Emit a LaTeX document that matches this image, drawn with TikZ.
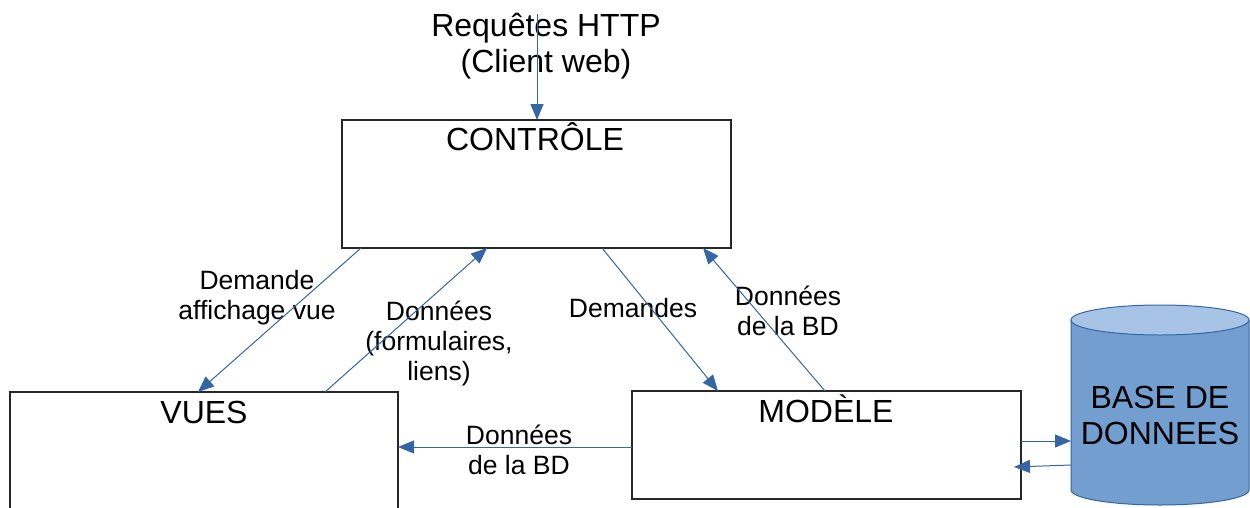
\documentclass[tikz,border=0pt]{standalone}
\usepackage{fontspec}
\setmainfont{Liberation Sans}
\usetikzlibrary{arrows.meta,calc}
\definecolor{arrblue}{HTML}{3465A4}
\definecolor{dbbody}{HTML}{729FCF}
\definecolor{dbtop}{HTML}{A7C4E6}
\tikzset{
  box/.style={draw=black!85, line width=1.2pt, fill=white, inner sep=0pt, outer sep=0pt},
  bigtxt/.style={font=\fontsize{32}{36}\selectfont, inner sep=0pt, align=center},
  lbl/.style={font=\fontsize{26.5}{30}\selectfont, inner sep=0pt, align=center},
  arr/.style={draw=arrblue, line width=1pt, -{Triangle[length=16pt, width=13pt]}, arrblue},
}
\begin{document}
\begin{tikzpicture}[x=1pt, y=-1pt]
\useasboundingbox (0,0) rectangle (1250,507);
\clip (0,0) rectangle (1250,507);

% the three blocks of the MVC pattern
\node[box, minimum width=389pt, minimum height=128pt] (ctrl) at (536.5,184) {};
\node[box, minimum width=388pt, minimum height=138pt] (vues) at (204,461) {};
\node[box, minimum width=389pt, minimum height=108pt] (modele) at (826.5,445) {};

\node[bigtxt, anchor=base] (tctrl) at (535,150) {CONTRÔLE};
\node[bigtxt, anchor=base] (tvues) at (204,423) {VUES};
\node[bigtxt, anchor=base] (tmod) at (826,422) {MODÈLE};

% database cylinder
\fill[dbbody] (1071,320) -- (1071,490)
  arc[start angle=180, end angle=0, x radius=89, y radius=15] -- (1249,320) -- cycle;
\draw[arrblue, line width=1pt] (1071,320) -- (1071,490)
  arc[start angle=180, end angle=0, x radius=89, y radius=15] -- (1249,320);
\draw[arrblue, line width=1pt, fill=dbtop] (1160,320) ellipse[x radius=89, y radius=15];
\node[inner sep=0pt, outer sep=0pt, minimum width=178pt, minimum height=200pt] (db) at (1160,405) {};
\node[bigtxt] (tdb) at (1160,415) {BASE DE\\DONNEES};

% incoming HTTP requests
\node[bigtxt] (thttp) at (546,46) {Requêtes HTTP\\(Client web)};
\coordinate (http) at (537,14);

% labels on the connectors
\node[lbl] (l1) at (257,298) {Demande\\affichage vue};
\node[lbl] (l2) at (439,343) {Données\\(formulaires,\\liens)};
\node[lbl, anchor=base] (l3) at (633,317) {Demandes};
\node[lbl] (l4) at (788,311) {Données\\de la BD};
\node[lbl] (l5) at (519,450) {Données\\de la BD};

% connectors
\draw[arr] (http) -- (http |- ctrl.north);
\draw[arr] ($(ctrl.south west)+(19,0)$) -- ($(vues.north west)+(188,0)$);
\draw[arr] ($(vues.north west)+(315,0)$) -- ($(ctrl.south west)+(145,0)$);
\draw[arr] ($(ctrl.south west)+(260,0)$) -- ($(modele.north west)+(86,0)$);
\draw[arr] ($(modele.north west)+(193,0)$) -- ($(ctrl.south west)+(361,0)$);
\draw[arr] ($(modele.north west)+(0,56)$) -- ($(vues.north east)+(0,55)$);
\draw[arr] ($(modele.north east)+(0,50)$) -- ($(db.west)+(0,36)$);
\draw[arr] ($(db.west)+(0,60)$) -- ($(modele.north east)+(-7,76)$);
\end{tikzpicture}
\end{document}
